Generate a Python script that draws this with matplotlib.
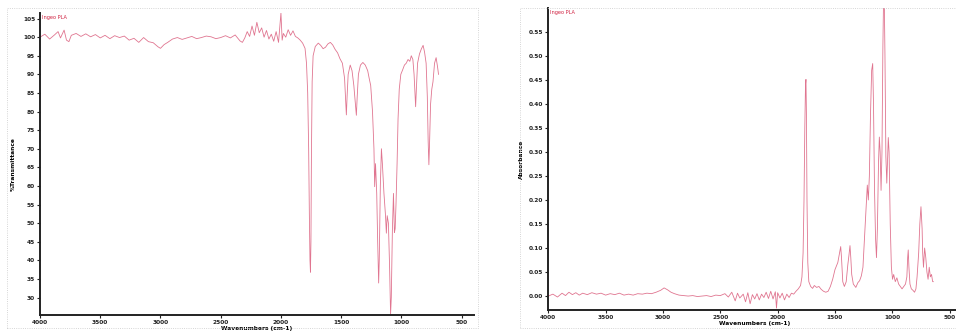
import matplotlib
matplotlib.use("Agg")
import matplotlib.pyplot as plt
from matplotlib.patches import Rectangle

# ── left panel: %Transmittance vs wavenumber ─────────────────────────
trans_wn = [
    4000, 3960, 3920, 3880, 3850, 3830, 3800, 3780, 3760, 3740, 3700, 3660,
    3620, 3580, 3540, 3500, 3460, 3420, 3380, 3340, 3300, 3260, 3220, 3180,
    3140, 3100, 3060, 3020, 3000, 2970, 2940, 2900, 2860, 2820, 2780, 2740,
    2700, 2660, 2620, 2580, 2540, 2500, 2460, 2420, 2380, 2340, 2320, 2300,
    2280, 2260, 2240, 2220, 2200, 2180, 2160, 2140, 2120, 2100, 2080, 2060,
    2040, 2020, 2000, 1990, 1980, 1960, 1940, 1920, 1900, 1880, 1860, 1840,
    1820, 1800, 1788, 1778, 1770, 1764, 1759, 1755, 1751, 1747, 1741, 1733,
    1715, 1690, 1670, 1650, 1630, 1610, 1590, 1570, 1550, 1530, 1510, 1490,
    1472, 1463, 1457, 1451, 1442, 1425, 1410, 1395, 1385, 1380, 1374, 1367,
    1357, 1340, 1320, 1300, 1280, 1268, 1255, 1240, 1228, 1222, 1215, 1205,
    1197, 1189, 1184, 1175, 1166, 1158, 1145, 1132, 1125, 1118, 1108, 1098,
    1090, 1084, 1075, 1066, 1058, 1052, 1045, 1036, 1028, 1018, 1005, 990,
    975, 960, 945, 930, 918, 905, 895, 888, 882, 876, 866, 850, 835, 820,
    808, 795, 785, 778, 772, 766, 758, 748, 738, 725, 712, 700, 692,
]
trans_pct = [
    100.0, 100.8, 99.5, 100.6, 101.5, 99.8, 101.9, 99.2, 98.8, 100.5, 101.0, 100.2,
    100.9, 100.1, 100.7, 99.8, 100.5, 99.6, 100.4, 99.9, 100.3, 99.2, 99.7, 98.6,
    99.9, 98.8, 98.5, 97.4, 97.0, 98.0, 98.6, 99.5, 99.9, 99.4, 99.8, 100.2,
    99.6, 99.9, 100.3, 100.1, 99.6, 99.9, 100.4, 99.8, 100.6, 99.0, 98.6, 99.8,
    101.5, 100.2, 103.0, 100.5, 104.0, 101.2, 102.5, 100.0, 101.8, 99.5, 100.8, 98.9,
    101.5, 98.6, 106.5, 99.2, 101.0, 100.0, 102.0, 100.5, 101.7, 100.2, 99.8, 99.2,
    98.4, 97.0, 93.0, 85.0, 70.0, 52.0, 40.0, 36.8, 45.0, 68.0, 88.0, 95.0,
    97.5, 98.4, 97.8, 96.9, 97.3, 98.2, 98.6, 97.9, 96.7, 95.8, 94.2, 93.0,
    89.0, 83.0, 79.1, 84.0, 90.0, 92.5, 91.0, 87.0, 83.1, 81.0, 79.0, 84.0,
    90.0, 92.5, 93.2, 92.5, 91.0, 89.0, 87.0, 80.0, 70.0, 59.8, 66.0, 58.0,
    45.0, 33.9, 40.0, 60.0, 70.0, 66.0, 58.0, 52.0, 47.3, 52.0, 50.0, 38.0,
    25.5, 30.0, 48.0, 58.0, 47.5, 48.5, 55.0, 66.0, 78.0, 86.0, 90.0, 91.2,
    92.5, 93.0, 94.0, 93.5, 95.0, 94.0, 90.0, 85.0, 81.3, 86.0, 93.0, 95.5,
    96.8, 97.8, 96.0, 93.0, 84.0, 72.0, 65.7, 72.0, 82.0, 86.0, 88.0, 93.0,
    94.5, 92.0, 90.0,
]
trans_ticks = [30, 35, 40, 45, 50, 55, 60, 65, 70, 75, 80, 85, 90, 95, 100, 105]

# ── right panel: Absorbance vs wavenumber ────────────────────────────
abs_wn = [
    4000, 3960, 3920, 3880, 3850, 3820, 3790, 3760, 3730, 3700, 3660, 3620,
    3580, 3540, 3500, 3460, 3420, 3380, 3340, 3300, 3260, 3220, 3180, 3140,
    3100, 3060, 3020, 2990, 2960, 2930, 2900, 2860, 2820, 2780, 2740, 2700,
    2660, 2620, 2580, 2540, 2500, 2460, 2430, 2400, 2370, 2350, 2330, 2300,
    2280, 2260, 2240, 2220, 2200, 2180, 2160, 2140, 2120, 2100, 2080, 2060,
    2040, 2020, 2010, 2000, 1980, 1960, 1940, 1920, 1900, 1880, 1860, 1840,
    1820, 1800, 1788, 1778, 1770, 1763, 1757, 1753, 1749, 1744, 1737, 1728,
    1712, 1695, 1680, 1660, 1640, 1620, 1600, 1580, 1560, 1540, 1520, 1500,
    1475, 1460, 1450, 1443, 1432, 1418, 1402, 1388, 1378, 1369, 1362, 1354,
    1340, 1318, 1300, 1285, 1270, 1256, 1243, 1230, 1218, 1209, 1200, 1190,
    1180, 1171, 1164, 1155, 1146, 1138, 1130, 1120, 1113, 1106, 1098, 1090,
    1082, 1075, 1070, 1064, 1056, 1048, 1040, 1035, 1028, 1018, 1008, 998,
    988, 974, 960, 945, 930, 915, 900, 885, 873, 866, 861, 855, 846, 834,
    820, 806, 794, 784, 770, 760, 750, 740, 735, 728, 718, 708, 698, 688,
    678, 668, 658, 648, 642,
]
abs_val = [
    0.000, 0.004, -0.002, 0.006, 0.001, 0.008, 0.003, 0.007, 0.002, 0.006, 0.003, 0.007,
    0.004, 0.006, 0.002, 0.005, 0.003, 0.006, 0.002, 0.004, 0.002, 0.005, 0.004, 0.006,
    0.005, 0.008, 0.012, 0.017, 0.013, 0.008, 0.005, 0.002, 0.001, 0.000, 0.001, -0.001,
    0.000, 0.001, -0.001, 0.002, 0.001, 0.005, -0.002, 0.008, -0.010, 0.006, -0.004, 0.004,
    -0.012, 0.007, -0.016, 0.003, -0.006, 0.005, -0.008, 0.004, -0.003, 0.008, -0.005, 0.010,
    -0.006, 0.009, -0.025, 0.007, -0.004, 0.006, -0.008, 0.004, -0.003, 0.006, 0.004, 0.010,
    0.015, 0.022, 0.040, 0.090, 0.200, 0.350, 0.440, 0.451, 0.380, 0.200, 0.070, 0.030,
    0.020, 0.016, 0.022, 0.018, 0.020, 0.014, 0.010, 0.008, 0.010, 0.020, 0.035, 0.055,
    0.070, 0.090, 0.103, 0.080, 0.030, 0.020, 0.030, 0.065, 0.085, 0.105, 0.080, 0.045,
    0.025, 0.018, 0.028, 0.032, 0.042, 0.060, 0.120, 0.180, 0.231, 0.200, 0.250, 0.380,
    0.470, 0.484, 0.400, 0.220, 0.120, 0.080, 0.140, 0.280, 0.331, 0.300, 0.220, 0.300,
    0.520, 0.640, 0.620, 0.500, 0.290, 0.235, 0.290, 0.330, 0.300, 0.150, 0.060, 0.035,
    0.045, 0.030, 0.038, 0.025, 0.020, 0.015, 0.020, 0.025, 0.040, 0.080, 0.096, 0.060,
    0.025, 0.015, 0.012, 0.008, 0.015, 0.040, 0.090, 0.150, 0.186, 0.140, 0.090, 0.060,
    0.100, 0.080, 0.050, 0.035, 0.060, 0.040, 0.045, 0.030, 0.030,
]
abs_ticks = [0.00, 0.05, 0.10, 0.15, 0.20, 0.25, 0.30, 0.35, 0.40, 0.45, 0.50, 0.55]

wn_ticks = [4000, 3500, 3000, 2500, 2000, 1500, 1000, 500]
sample_name = "Ingeo PLA"

LINE = "#e07590"
W, H = 956, 331

fig = plt.figure(figsize=(W / 100, H / 100), dpi=100)

# light window frames around each panel
for x0, x1 in ((7, 478), (520, 958)):
    fig.patches.append(Rectangle((x0 / W, 1 - 328 / H), (x1 - x0) / W, (328 - 8) / H,
                                 transform=fig.transFigure, fill=False,
                                 edgecolor="#c8c8c8", linewidth=0.6, linestyle=":"))

ax1 = fig.add_axes([40 / W, 1 - 315 / H, 433.7 / W, 302 / H])
ax2 = fig.add_axes([548.3 / W, 1 - 310 / H, 412.8 / W, 301.7 / H])


def style(ax, ticks, fmt, ylabel, ylab_x):
    ax.set_xlim(4000, 400)
    ax.set_xticks(wn_ticks)
    ax.set_xticklabels([str(t) for t in wn_ticks])
    ax.set_yticks(ticks)
    ax.set_yticklabels([fmt.format(t) for t in ticks])
    for s in ("top", "right"):
        ax.spines[s].set_visible(False)
    for s in ("left", "bottom"):
        ax.spines[s].set_linewidth(1.4)
        ax.spines[s].set_color("#222222")
    ax.tick_params(length=2, width=0.8, labelsize=4.2, pad=1.5, colors="#222222")
    for lab in ax.get_xticklabels() + ax.get_yticklabels():
        lab.set_fontweight("bold")
    ax.set_xlabel("Wavenumbers (cm-1)", fontsize=4.2, fontweight="bold", labelpad=0.5)
    ax.set_ylabel(ylabel, fontsize=4.2, fontweight="bold")
    ax.yaxis.set_label_coords(ylab_x, 0.5)
    ax.text(0.005, 0.995, sample_name, transform=ax.transAxes, color="#d02040",
            fontsize=3.6, ha="left", va="top")


ax1.plot(trans_wn, trans_pct, color=LINE, linewidth=0.6)
ax1.set_ylim(25.3, 106.5)
style(ax1, trans_ticks, "{:d}", "%Transmittance", -0.055)

ax2.plot(abs_wn, abs_val, color=LINE, linewidth=0.6)
ax2.set_ylim(-0.029, 0.599)
style(ax2, abs_ticks, "{:.2f}", "Absorbance", -0.06)

fig.savefig("out.png", dpi=100)
